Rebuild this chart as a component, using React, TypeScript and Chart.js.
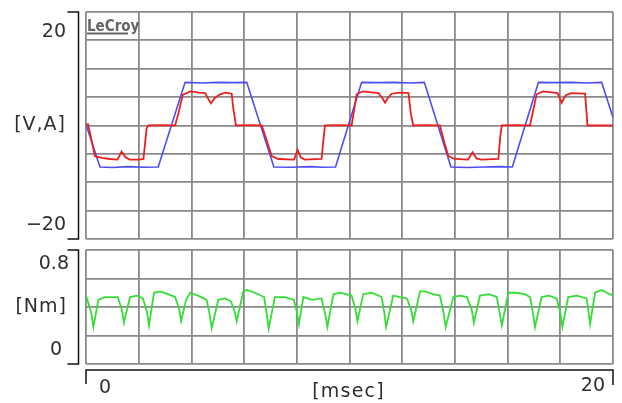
import React, { useEffect, useRef } from "react";
import { Chart, registerables } from "chart.js";

Chart.register(...registerables);

// ---- Data (time in msec) ----
const blueT = [0, 0.53, 1.0, 1.6, 2.2, 2.74, 3.76, 4.4, 5.0, 5.6, 6.1, 7.13, 7.8, 8.5, 9.0, 9.47, 10.46, 11.1, 11.7, 12.3, 12.84, 13.85, 14.5, 15.1, 15.7, 16.18, 17.17, 17.8, 18.4, 19.0, 19.57, 20];
const blueV = [0.2, -7.3, -7.4, -7.25, -7.35, -7.3, 7.6, 7.5, 7.6, 7.55, 7.6, -7.3, -7.35, -7.25, -7.35, -7.3, 7.6, 7.55, 7.6, 7.5, 7.6, -7.3, -7.4, -7.3, -7.25, -7.3, 7.6, 7.55, 7.6, 7.5, 7.6, 1.4];

const redT = [0, 0.08, 0.34, 0.6, 0.9, 1.2, 1.35, 1.5, 1.66, 2.0, 2.18, 2.3, 2.36, 2.9, 3.38, 3.5, 3.67, 3.95, 4.3, 4.52, 4.65, 4.74, 4.88, 5.09, 5.3, 5.53, 5.59, 5.69, 6.2, 6.67, 6.85, 7.05, 7.3, 7.9, 8.03, 8.15, 8.3, 8.94, 9.0, 9.07, 9.6, 10.08, 10.27, 10.5, 11.1, 11.25, 11.35, 11.45, 11.6, 11.9, 12.24, 12.33, 12.42, 12.9, 13.43, 13.6, 13.75, 14.0, 14.5, 14.67, 14.82, 15.0, 15.65, 15.72, 15.78, 16.3, 16.85, 17.1, 17.35, 17.9, 18.05, 18.2, 18.4, 18.94, 19.0, 19.03, 20];
const redV = [0.2, 0.2, -5.4, -5.7, -5.9, -6.0, -4.6, -5.6, -6.0, -6.0, -5.9, -0.5, 0, 0.05, 0, 2.0, 5.4, 6.0, 5.8, 5.7, 4.6, 3.9, 4.8, 5.5, 5.8, 5.6, 3.0, 0, 0.05, 0, -2.5, -5.4, -5.9, -6.0, -4.3, -5.6, -6.0, -5.9, -3.0, 0, 0.05, 0, 5.5, 6.0, 5.7, 4.8, 4.0, 4.8, 5.6, 5.8, 5.7, 2.0, 0, 0.05, 0, -3.0, -5.4, -5.9, -6.0, -4.7, -5.8, -6.0, -5.9, -2.0, 0, 0.05, 0, 5.5, 6.0, 5.7, 4.0, 5.3, 5.7, 5.6, 2.0, 0, 0];

const greenT = [0, 0.2, 0.28, 0.47, 0.72, 1.21, 1.36, 1.44, 1.67, 1.94, 2.16, 2.31, 2.39, 2.58, 2.81, 3.11, 3.38, 3.53, 3.61, 3.80, 3.95, 4.25, 4.58, 4.69, 4.77, 5.02, 5.28, 5.50, 5.64, 5.72, 5.97, 6.11, 6.41, 6.76, 6.86, 6.93, 7.17, 7.55, 7.89, 8.01, 8.08, 8.25, 8.58, 8.94, 9.08, 9.16, 9.39, 9.64, 10.08, 10.22, 10.30, 10.52, 10.85, 11.22, 11.32, 11.39, 11.66, 11.92, 12.18, 12.34, 12.42, 12.68, 12.87, 13.17, 13.43, 13.57, 13.65, 13.94, 14.19, 14.46, 14.64, 14.72, 14.95, 15.29, 15.59, 15.70, 15.78, 16.03, 16.32, 16.66, 16.85, 16.96, 17.04, 17.29, 17.57, 17.86, 18.00, 18.08, 18.30, 18.63, 19.00, 19.07, 19.13, 19.32, 19.57, 19.77, 20];
const greenV = [0.48, 0.36, 0.26, 0.45, 0.47, 0.47, 0.38, 0.29, 0.47, 0.48, 0.46, 0.37, 0.27, 0.50, 0.51, 0.49, 0.47, 0.39, 0.30, 0.45, 0.50, 0.48, 0.45, 0.35, 0.25, 0.45, 0.46, 0.44, 0.37, 0.30, 0.51, 0.52, 0.50, 0.47, 0.35, 0.25, 0.47, 0.47, 0.45, 0.36, 0.28, 0.47, 0.45, 0.46, 0.35, 0.26, 0.49, 0.50, 0.48, 0.39, 0.30, 0.49, 0.50, 0.47, 0.36, 0.26, 0.48, 0.47, 0.46, 0.38, 0.30, 0.51, 0.51, 0.49, 0.48, 0.36, 0.26, 0.47, 0.48, 0.47, 0.38, 0.29, 0.48, 0.49, 0.47, 0.36, 0.27, 0.50, 0.50, 0.49, 0.47, 0.36, 0.26, 0.47, 0.48, 0.46, 0.36, 0.26, 0.47, 0.48, 0.46, 0.37, 0.28, 0.50, 0.52, 0.50, 0.48];

// ---- Axis texts ----
const topLabels = ["20", "[V,A]", "\u221220"];
const bottomLabels = ["0.8", "[Nm]", "0"];
const xLabels = ["0", "[msec]", "20"];
const logoText = "LeCroy";

const W = 622;
const TOP_H = 245;
const BOT_H = 158;
const GRID = "#8a8a8a";
const FONT = '"DejaVu Sans", sans-serif';
const INK = "#2e2e2e";

const pts = (t: number[], v: number[]) => t.map((x, i) => ({ x, y: v[i] }));

function gridScale(min: number, max: number, step: number, axis: "x" | "y") {
  return {
    type: "linear" as const,
    min,
    max,
    ticks: { display: false, stepSize: step },
    grid: { color: GRID, lineWidth: 1.8, drawTicks: false },
    border: { display: false },
    afterFit: (s: any) => {
      if (axis === "x") s.height = 0;
      else s.width = 0;
    },
  };
}

function text(ctx: CanvasRenderingContext2D, s: string, x: number, y: number, align: CanvasTextAlign, spacing = 0) {
  ctx.save();
  ctx.font = `19px ${FONT}`;
  (ctx as any).letterSpacing = `${spacing}px`;
  ctx.fillStyle = INK;
  ctx.textAlign = align;
  ctx.textBaseline = "middle";
  ctx.fillText(s, x, y);
  ctx.restore();
}

function leftBracket(ctx: CanvasRenderingContext2D, x: number, top: number, bottom: number) {
  ctx.save();
  ctx.strokeStyle = "#111";
  ctx.lineWidth = 1.5;
  ctx.beginPath();
  ctx.moveTo(x - 11, top);
  ctx.lineTo(x, top);
  ctx.lineTo(x, bottom);
  ctx.lineTo(x - 11, bottom);
  ctx.stroke();
  ctx.restore();
}

export default function App() {
  const topRef = useRef<HTMLCanvasElement>(null);
  const botRef = useRef<HTMLCanvasElement>(null);

  useEffect(() => {
    const topDecor = {
      id: "topDecor",
      afterDraw(chart: any) {
        const ctx = chart.ctx as CanvasRenderingContext2D;
        const a = chart.chartArea;
        leftBracket(ctx, a.left - 7.5, a.top, a.bottom);
        text(ctx, topLabels[0], a.left - 20, a.top + 20, "right");
        text(ctx, topLabels[1], a.left - 20, (a.top + a.bottom) / 2, "right", 1);
        text(ctx, topLabels[2], a.left - 20, a.bottom - 14, "right");
        // LeCroy logo
        ctx.save();
        ctx.font = `bold 15px "DejaVu Sans Condensed", "DejaVu Sans", sans-serif`;
        ctx.fillStyle = "#666";
        ctx.textAlign = "left";
        ctx.textBaseline = "alphabetic";
        ctx.fillText(logoText, a.left + 1, a.top + 19);
        ctx.strokeStyle = "#666";
        ctx.lineWidth = 2;
        ctx.beginPath();
        ctx.moveTo(a.left + 1, a.top + 21.5);
        ctx.lineTo(a.left + 42, a.top + 21.5);
        ctx.stroke();
        ctx.restore();
      },
    };

    const botDecor = {
      id: "botDecor",
      afterDraw(chart: any) {
        const ctx = chart.ctx as CanvasRenderingContext2D;
        const a = chart.chartArea;
        leftBracket(ctx, a.left - 7.5, a.top, a.bottom);
        text(ctx, bottomLabels[0], a.left - 17, a.top + 14, "right");
        text(ctx, bottomLabels[1], a.left - 19, (a.top + a.bottom) / 2, "right", 1);
        text(ctx, bottomLabels[2], a.left - 24, a.bottom - 14, "right");
        // x bracket
        const yb = a.bottom + 6;
        ctx.save();
        ctx.strokeStyle = "#111";
        ctx.lineWidth = 1.5;
        ctx.beginPath();
        ctx.moveTo(a.left, yb + 14);
        ctx.lineTo(a.left, yb);
        ctx.lineTo(a.right, yb);
        ctx.lineTo(a.right, yb + 15);
        ctx.stroke();
        ctx.restore();
        text(ctx, xLabels[0], a.left + 19, yb + 18.5, "center");
        text(ctx, xLabels[1], (a.left + a.right) / 2 - 1, yb + 22, "center", 1.2);
        text(ctx, xLabels[2], a.right - 8, yb + 16.5, "right");
      },
    };

    const top = new Chart(topRef.current!, {
      type: "line",
      data: {
        datasets: [
          { data: pts(redT, redV), borderColor: "#ea2020", borderWidth: 1.8 },
          { data: pts(blueT, blueV), borderColor: "#4d4df2", borderWidth: 1.6 },
        ],
      },
      options: {
        animation: false,
        responsive: false,
        maintainAspectRatio: false,
        layout: { padding: { left: 86, right: 9, top: 12, bottom: 6 } },
        plugins: { legend: { display: false }, tooltip: { enabled: false } },
        elements: { point: { radius: 0 }, line: { tension: 0 } },
        scales: {
          x: gridScale(0, 20, 2, "x"),
          y: gridScale(-20, 20, 5, "y"),
        },
      },
      plugins: [topDecor],
    } as any);

    const bot = new Chart(botRef.current!, {
      type: "line",
      data: {
        datasets: [{ data: pts(greenT, greenV), borderColor: "#36dd36", borderWidth: 1.8 }],
      },
      options: {
        animation: false,
        responsive: false,
        maintainAspectRatio: false,
        layout: { padding: { left: 86, right: 9, top: 5, bottom: 39 } },
        plugins: { legend: { display: false }, tooltip: { enabled: false } },
        elements: { point: { radius: 0 }, line: { tension: 0 } },
        scales: {
          x: gridScale(0, 20, 2, "x"),
          y: gridScale(0, 0.8, 0.2, "y"),
        },
      },
      plugins: [botDecor],
    } as any);

    return () => {
      top.destroy();
      bot.destroy();
    };
  }, []);

  return (
    <div style={{ position: "fixed", left: 0, top: 0, width: W, height: TOP_H + BOT_H, background: "#fff" }}>
      <canvas ref={topRef} width={W} height={TOP_H} style={{ position: "absolute", left: 0, top: 0, width: W, height: TOP_H }} />
      <canvas ref={botRef} width={W} height={BOT_H} style={{ position: "absolute", left: 0, top: TOP_H, width: W, height: BOT_H }} />
    </div>
  );
}
